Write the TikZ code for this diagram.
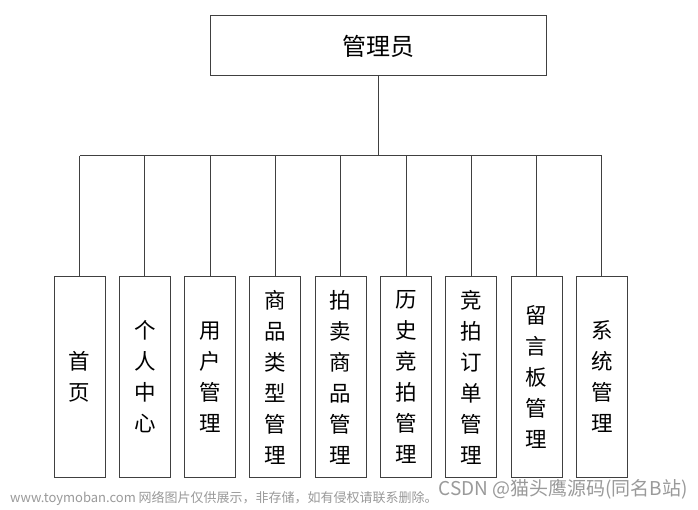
\documentclass[tikz,border=0pt]{standalone}
\usepackage{fontspec}
\setmainfont{Liberation Sans}
\newfontfamily\cjk{Noto Sans CJK SC}
\definecolor{linegray}{HTML}{404040}
\definecolor{wmgray}{HTML}{9A9A9A}
\begin{document}
\begin{tikzpicture}[x=1pt,y=-1pt,
  box/.style={draw=linegray,line width=1pt,fill=white,minimum width=51pt,minimum height=200pt,inner sep=0pt,
    font=\cjk\fontsize{21.5}{31}\selectfont,align=center,text width=24pt},
  topbox/.style={draw=linegray,line width=1pt,minimum width=336pt,minimum height=60pt,inner sep=0pt,
    font=\cjk\fontsize{24}{28}\selectfont},
  conn/.style={draw=linegray,line width=1pt}]
\path[use as bounding box,fill=white] (0,0) rectangle (698,510);
\node[topbox] (root) at (378,46) {管理员};
\coordinate (bus) at (378,156);
\foreach \i/\t in {0/{首\\页},1/{个\\人\\中\\心},2/{用\\户\\管\\理},3/{商\\品\\类\\型\\管\\理},4/{拍\\卖\\商\\品\\管\\理},5/{历\\史\\竞\\拍\\管\\理},6/{竞\\拍\\订\\单\\管\\理},7/{留\\言\\板\\管\\理},8/{系\\统\\管\\理}}{
  \node[box] (b\i) at ({79.5+65.3*\i},377) {\t};
  \coordinate (c\i) at ({79.5+65.3*\i},156);
  \draw[conn] (c\i) -- (b\i.north);
}
\draw[conn] (root.south) -- (bus);
\draw[conn] (c0) -- (c8);
\node[anchor=east,text=wmgray,inner sep=0pt,font=\cjk\fontsize{19}{21}\selectfont] (wm1) at (688,489) {CSDN @猫头鹰源码(同名B站)};
\node[anchor=west,text=wmgray,inner sep=0pt,font=\cjk\fontsize{13}{15}\selectfont] (wm2) at (10,498) {www.toymoban.com 网络图片仅供展示，非存储，如有侵权请联系删除。};
\end{tikzpicture}
\end{document}
